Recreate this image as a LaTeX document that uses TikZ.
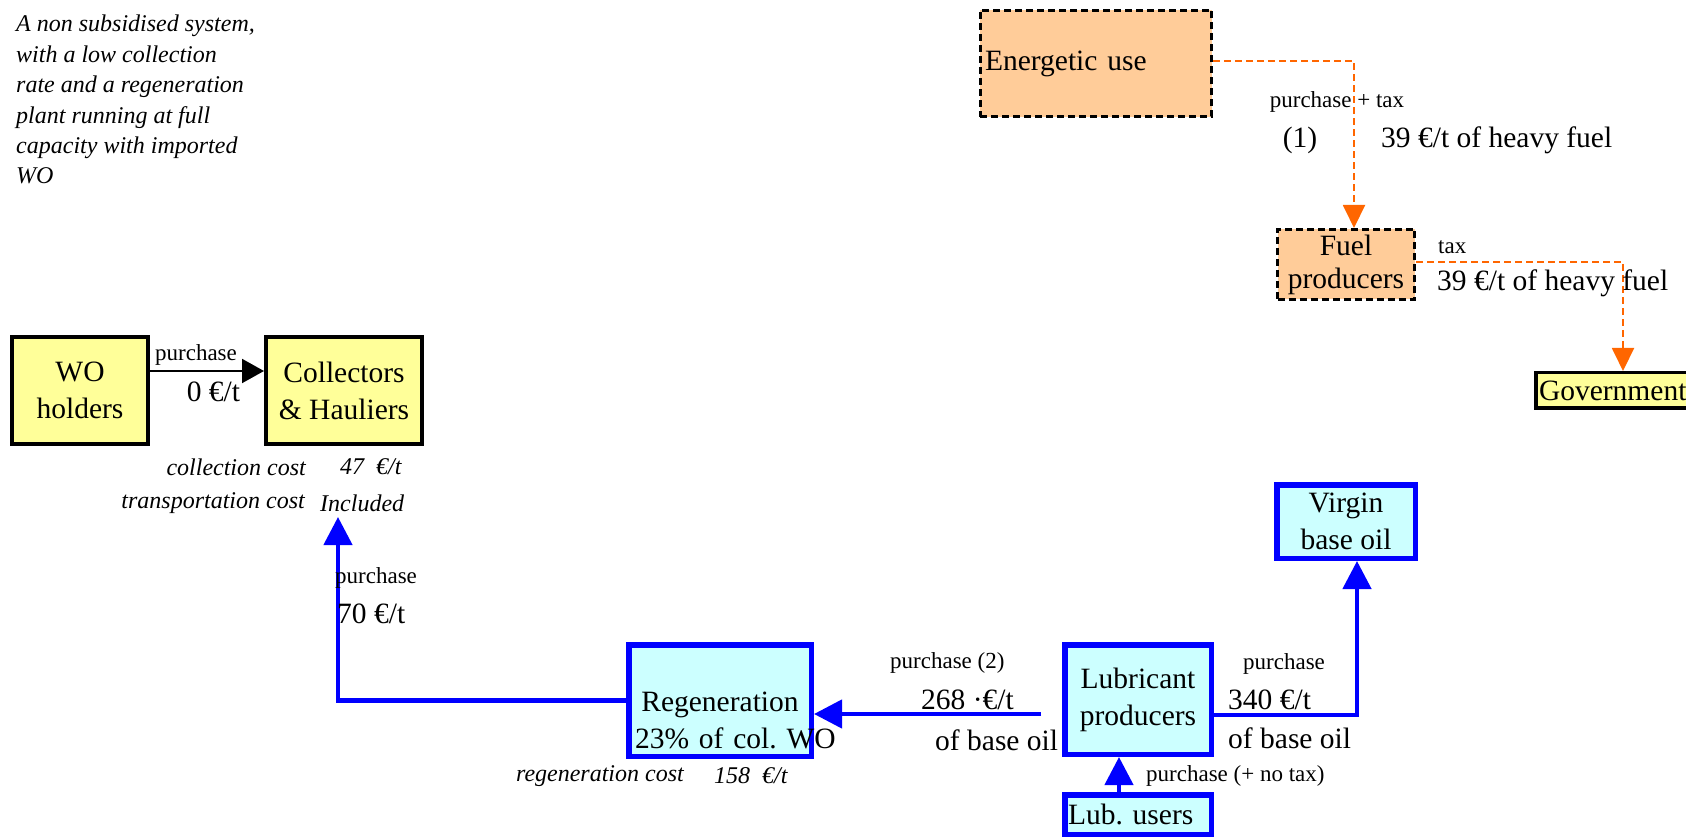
\documentclass[tikz,border=0pt]{standalone}
\usepackage{fontspec}
\setmainfont{Liberation Serif}
\usepackage{tikz}
\usetikzlibrary{arrows.meta, positioning, calc}
\frenchspacing

\definecolor{holderyellow}{HTML}{FFFF99}
\definecolor{oilcyan}{HTML}{CCFFFF}
\definecolor{fuelpeach}{HTML}{FFCC99}
\definecolor{taxorange}{HTML}{FF6600}

\newcommand{\boxfont}{\fontsize{29.5}{37}\selectfont}
\newcommand{\pricefont}{\fontsize{29.5}{37}\selectfont}
\newcommand{\tagfont}{\fontsize{23}{27}\selectfont}
\newcommand{\costfont}{\fontsize{24}{30.4}\selectfont\itshape}

\tikzset{
    actorbox/.style={rectangle, draw=black, line width=4pt, fill=holderyellow,
        inner sep=0pt, align=center, font=\boxfont},
    oilbox/.style={rectangle, draw=blue, line width=5.5pt, fill=oilcyan,
        inner sep=0pt, align=center, font=\boxfont},
    fuelbox/.style={rectangle, draw=black, line width=3pt, dash pattern=on 7pt off 4pt,
        fill=fuelpeach, inner sep=0pt, align=center, font=\boxfont},
    pricelabel/.style={inner sep=0pt, font=\pricefont},
    taglabel/.style={inner sep=0pt, font=\tagfont},
    costlabel/.style={inner sep=0pt, font=\costfont},
    cashflow/.style={-{Triangle[length=22pt, width=24pt]}, line width=2pt, black},
    oilflow/.style={-{Triangle[length=28pt, width=28pt]}, line width=4.5pt, blue},
    taxflow/.style={-{Triangle[length=23pt, width=22pt]}, line width=2pt,
        dash pattern=on 7pt off 4pt, taxorange},
}

\begin{document}
\begin{tikzpicture}[x=1pt, y=1pt]
    \useasboundingbox (0,0) rectangle (1686,839);

    % Scenario note
    \node[costlabel, anchor=north west, align=left] (note) at (16,824)
        {A non subsidised system,\\with a low collection\\rate and a regeneration\\plant running at full\\capacity with imported\\WO};

    % Collection chain
    \node[actorbox, minimum width=136pt, minimum height=107pt] (holders) at (80,448.5) {WO\\holders};
    \node[actorbox, minimum width=156pt, minimum height=107pt] (collectors) at (344,448.5) {Collectors\\\& Hauliers};

    % Base oil market (second line of regen runs past the box)
    \node[oilbox, minimum width=182.5pt, minimum height=111.5pt, text width=170pt] (regen) at (720,138.5)
        {\rule{0pt}{59pt}Regeneration\\\mbox{23\% of col. WO}};
    \node[oilbox, minimum width=146.5pt, minimum height=109.5pt] (lubprod) at (1138,139.5) {Lubricant\\producers};
    \node[oilbox, minimum width=146.5pt, minimum height=39.5pt, text width=140pt, align=left] (lubusers) at (1138,24.5) {Lub. users};
    \node[oilbox, minimum width=138.5pt, minimum height=73.5pt] (virgin) at (1346,317.5) {Virgin\\base oil};

    % Fuel side
    \node[fuelbox, minimum width=231.5pt, minimum height=106.7pt, text width=222pt, align=left] (energetic) at (1096,775.5) {Energetic use};
    \node[fuelbox, minimum width=137pt, minimum height=70pt, font=\fontsize{29.5}{33}\selectfont] (fuelprod) at (1346,574.5) {Fuel\\producers};
    \node[actorbox, line width=3.5pt, minimum width=154.5pt, minimum height=35.5pt, text width=148pt, align=left] (gov) at (1613,448.5) {Government};

    % Money flows
    \draw[cashflow] ([yshift=19.5pt]holders.east) -- ([yshift=19.5pt]collectors.west);
    \coordinate (collin) at ([xshift=-6pt,yshift=-71pt]collectors.south);
    \draw[oilflow] (regen.west) -| (collin);
    \coordinate (lubout) at ([yshift=-14.5pt]lubprod.west);
    \draw[oilflow, shorten <=21pt] (lubout) -- (lubout -| regen.east);
    \draw[oilflow] ([yshift=-15.5pt]lubprod.east) -| ([xshift=11pt]virgin.south);
    \draw[oilflow] ([xshift=-19pt]lubusers.north) -- ([xshift=-19pt]lubprod.south);
    \draw[taxflow] ([yshift=2.5pt]energetic.east) -| ([xshift=8pt]fuelprod.north);
    \draw[taxflow] ([yshift=2.5pt]fuelprod.east) -| ([xshift=10pt]gov.north);

    % Prices and costs
    \node[taglabel] (buyholders) at (196,484) {purchase};
    \node[pricelabel] (priceholders) at (213.5,447) {0 €/t};
    \node[costlabel, anchor=east] (collcost) at (306,372) {collection cost};
    \node[costlabel, anchor=west] (collprice) at (340,372) {47~~€/t};
    \node[costlabel, anchor=east] (transcost) at (305,336) {transportation cost};
    \node[costlabel, anchor=west] (transprice) at (320,336) {Included};
    \node[taglabel, anchor=west] (buyregen) at (335,261) {purchase};
    \node[pricelabel, anchor=west] (priceregen) at (337,225) {70 €/t};
    \node[costlabel, anchor=east] (regencost) at (684,63) {regeneration cost};
    \node[costlabel, anchor=west] (regenprice) at (714,63) {158~~€/t};
    \node[taglabel, anchor=west] (buybase) at (890,176) {purchase (2)};
    \node[pricelabel, anchor=west] (pricebase) at (921,139) {268 ·€/t};
    \node[pricelabel, anchor=west] (unitbase) at (935,99) {of base oil};
    \node[taglabel, anchor=west] (buyvirgin) at (1243,175) {purchase};
    \node[pricelabel, anchor=west] (pricevirgin) at (1228,139) {340 €/t};
    \node[pricelabel, anchor=west] (unitvirgin) at (1228,101) {of base oil};
    \node[taglabel, anchor=west] (buyusers) at (1146,63) {purchase (+ no tax)};
    \node[taglabel] (buyfuel) at (1337,737) {purchase + tax};
    \node[pricelabel] (note1) at (1300,699) {(1)};
    \node[pricelabel, anchor=west] (taxenergetic) at (1381,699) {39 €/t of heavy fuel};
    \node[taglabel, anchor=west] (taxgov) at (1438,592) {tax};
    \node[pricelabel, anchor=west] (taxfuel) at (1437,556) {39 €/t of heavy fuel};
\end{tikzpicture}
\end{document}
